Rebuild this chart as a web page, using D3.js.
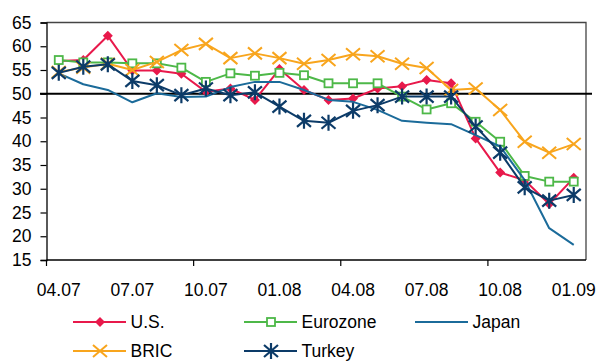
<!DOCTYPE html>
<html>
<head>
<meta charset="utf-8">
<script src="https://cdn.jsdelivr.net/npm/d3@7"></script>
<style>
  body { margin: 0; background: #fff; }
  text { font-family: "Liberation Sans", Arial, sans-serif; fill: #000; }
</style>
</head>
<body>
<div id="chart"></div>
<script>
// months, 04.07 .. 01.09
const months = ['04.07','05.07','06.07','07.07','08.07','09.07','10.07','11.07','12.07',
  '01.08','02.08','03.08','04.08','05.08','06.08','07.08','08.08','09.08','10.08','11.08','12.08','01.09'];

const usValues = [56.9, 57.1, 62.2, 54.9, 54.9, 54.2, 50.4, 51.1, 48.7, 55.2, 50.8,
  48.7, 49.0, 51.1, 51.6, 52.9, 52.2, 40.6, 33.4, 31.8, 26.8, 32.3];
const eurozoneValues = [57.1, 56.6, 56.6, 56.4, 56.4, 55.5, 52.5, 54.3, 53.8, 54.4, 53.9,
  52.2, 52.2, 52.2, 49.4, 46.7, 48.0, 44.1, 39.9, 32.7, 31.5, 31.5];
const japanValues = [54.3, 52.0, 50.8, 48.2, 50.1, 49.3, 49.4, 51.4, 52.5, 52.5, 50.8,
  48.7, 48.3, 46.6, 44.3, 43.9, 43.6, 41.3, 38.9, 31.8, 21.7, 18.2];
const bricValues = [54.6, 55.5, 56.3, 55.0, 56.7, 59.2, 60.5, 57.5, 58.5, 57.5, 56.3,
  57.1, 58.3, 57.9, 56.3, 55.4, 50.8, 51.1, 46.6, 39.9, 37.6, 39.4];
const turkeyValues = [54.4, 55.7, 56.2, 52.7, 51.8, 49.7, 51.1, 49.7, 50.3, 47.3, 44.3,
  43.9, 46.4, 47.6, 49.4, 49.4, 49.4, 43.1, 37.6, 30.3, 27.5, 28.7];

const yTicks = [15, 20, 25, 30, 35, 40, 45, 50, 55, 60, 65];
const xLabels = ['04.07','07.07','10.07','01.08','04.08','07.08','10.08','01.09'];
const threshold = 50;

const series = [
  {name: 'U.S.', values: usValues, color: '#E8194B', marker: 'diamond'},
  {name: 'Eurozone', values: eurozoneValues, color: '#4DB848', marker: 'square'},
  {name: 'Japan', values: japanValues, color: '#1B6B9A', marker: 'none'},
  {name: 'BRIC', values: bricValues, color: '#F8A51D', marker: 'x'},
  {name: 'Turkey', values: turkeyValues, color: '#0C3B68', marker: 'star'},
];

const svgWidth = 599, svgHeight = 361;
const plotLeft = 46.5, plotRight = 586, plotTop = 22.5, plotBottom = 260;
const fontSize = 17.5;

const svg = d3.select('#chart').append('svg')
  .attr('width', svgWidth)
  .attr('height', svgHeight);

const x = d3.scaleBand().domain(months).range([plotLeft, plotRight]).padding(0);
const y = d3.scaleLinear().domain([15, 65]).range([plotBottom, plotTop]);
const cx = d => x(d) + x.bandwidth() / 2;

// ---------------------------------------------------------------------------
// FRAME
// ---------------------------------------------------------------------------
svg.append('path')
  .attr('d', `M${plotLeft},${plotTop}H${plotRight}V${plotBottom}`)
  .attr('fill', 'none')
  .attr('stroke', '#444')
  .attr('stroke-width', 1.3);

// ---------------------------------------------------------------------------
// Y AXIS
// ---------------------------------------------------------------------------
const yAxis = svg.append('g')
  .attr('transform', `translate(${plotLeft},0)`)
  .call(d3.axisLeft(y).tickValues(yTicks).tickSize(6).tickPadding(9));
yAxis.select('.domain').attr('stroke', '#000').attr('stroke-width', 1.3);
yAxis.selectAll('.tick line').attr('stroke', '#000').attr('stroke-width', 1.2);
yAxis.selectAll('.tick text')
  .attr('font-size', fontSize)
  .attr('font-family', '"Liberation Sans", Arial, sans-serif')
  .attr('fill', '#000');

// ---------------------------------------------------------------------------
// X AXIS (labels every 3rd month, tick marks every 6th)
// ---------------------------------------------------------------------------
const xAxis = svg.append('g')
  .attr('transform', `translate(0,${plotBottom})`)
  .call(d3.axisBottom(x).tickValues(xLabels).tickSize(0).tickPadding(23.5));
xAxis.select('.domain').remove();
xAxis.selectAll('.tick text')
  .attr('font-size', fontSize)
  .attr('font-family', '"Liberation Sans", Arial, sans-serif')
  .attr('fill', '#000');

svg.append('line')
  .attr('x1', plotLeft).attr('x2', plotRight)
  .attr('y1', plotBottom).attr('y2', plotBottom)
  .attr('stroke', '#000').attr('stroke-width', 1.3);

svg.append('g').selectAll('line')
  .data(months.filter((m, i) => i % 6 === 0))
  .join('line')
    .attr('x1', d => x(d)).attr('x2', d => x(d))
    .attr('y1', plotBottom).attr('y2', plotBottom + 6)
    .attr('stroke', '#000').attr('stroke-width', 1.2);

// ---------------------------------------------------------------------------
// 50 LINE
// ---------------------------------------------------------------------------
svg.append('line')
  .attr('x1', 40).attr('x2', 592)
  .attr('y1', y(threshold)).attr('y2', y(threshold))
  .attr('stroke', '#000').attr('stroke-width', 2);

// ---------------------------------------------------------------------------
// MARKERS
// ---------------------------------------------------------------------------
function drawMarker(g, type, color) {
  if (type === 'diamond') {
    g.append('path').attr('d', 'M0,-5L5,0L0,5L-5,0Z').attr('fill', color);
  } else if (type === 'square') {
    g.append('rect').attr('x', -4).attr('y', -4).attr('width', 8).attr('height', 8)
      .attr('fill', '#fff').attr('stroke', color).attr('stroke-width', 1.8);
  } else if (type === 'x') {
    g.append('path').attr('d', 'M-7,-6L7,6M-7,6L7,-6')
      .attr('stroke', color).attr('stroke-width', 2).attr('fill', 'none');
  } else if (type === 'star') {
    g.append('path').attr('d', 'M-7,-6L7,6M-7,6L7,-6M0,-8V8')
      .attr('stroke', color).attr('stroke-width', 2.2).attr('fill', 'none');
  }
}

// ---------------------------------------------------------------------------
// DATA LINES
// ---------------------------------------------------------------------------
const line = d3.line()
  .x((d, i) => cx(months[i]))
  .y(d => y(d));

series.forEach(s => {
  const g = svg.append('g').attr('class', 'series');
  g.append('path')
    .attr('d', line(s.values))
    .attr('fill', 'none')
    .attr('stroke', s.color)
    .attr('stroke-width', 2)
    .attr('stroke-linejoin', 'round');
  if (s.marker !== 'none') {
    g.selectAll('.mk')
      .data(s.values)
      .join('g')
        .attr('class', 'mk')
        .attr('transform', (d, i) => `translate(${cx(months[i])},${y(d)})`)
        .each(function() { drawMarker(d3.select(this), s.marker, s.color); });
  }
});

// ---------------------------------------------------------------------------
// LEGEND
// ---------------------------------------------------------------------------
const legendPos = [
  {x: 73, y: 322}, {x: 244, y: 322}, {x: 415, y: 322},
  {x: 73, y: 351}, {x: 244, y: 351},
];
series.forEach((s, i) => {
  const p = legendPos[i];
  const g = svg.append('g').attr('transform', `translate(${p.x},${p.y})`);
  g.append('line')
    .attr('x1', 0).attr('x2', 53)
    .attr('stroke', s.color).attr('stroke-width', 2);
  const m = g.append('g').attr('transform', 'translate(27,0)');
  drawMarker(m, s.marker, s.color);
  g.append('text')
    .attr('x', 57.5)
    .attr('dy', '0.36em')
    .attr('font-size', fontSize)
    .text(s.name);
});
</script>
</body>
</html>
